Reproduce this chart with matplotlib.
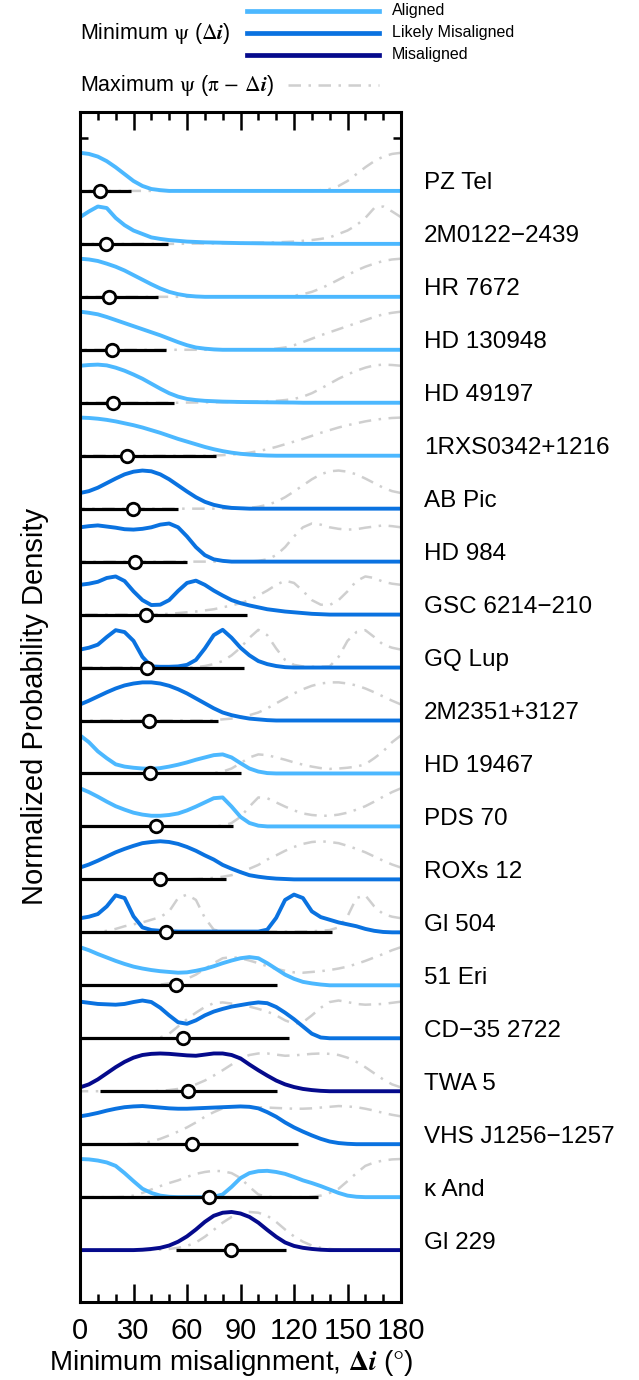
import numpy as np
import matplotlib
matplotlib.use("Agg")
import matplotlib.pyplot as plt
from matplotlib.lines import Line2D

plt.rcParams['font.family'] = ['Liberation Sans', 'DejaVu Sans']
plt.rcParams['mathtext.fontset'] = 'stix'

# objects, top to bottom
names = ['PZ Tel', '2M0122\u22122439', 'HR 7672', 'HD 130948', 'HD 49197',
         '1RXS0342+1216', 'AB Pic', 'HD 984', 'GSC 6214\u2212210', 'GQ Lup',
         '2M2351+3127', 'HD 19467', 'PDS 70', 'ROXs 12', 'Gl 504', '51 Eri',
         'CD\u221235 2722', 'TWA 5', 'VHS J1256\u22121257', '\u03ba And', 'Gl 229']
status = ['A', 'A', 'A', 'A', 'A', 'A', 'L', 'L', 'L', 'L', 'L', 'A', 'A', 'L',
          'L', 'A', 'L', 'M', 'L', 'A', 'M']

# median and range of minimum misalignment (deg)
medians = [11.2, 14.4, 16.4, 17.8, 18.7, 26.5, 29.9, 30.8, 37.0, 37.4, 38.7,
           39.3, 42.6, 44.9, 48.0, 53.8, 57.9, 60.7, 63.0, 72.5, 84.7]
err_lo = [0, 0, 0, 0, 0, 0, 0, 0, 0, 0, 0, 0, 0, 0, 0, 0, 0, 11.2, 0, 0, 53.8]
err_hi = [28.6, 49.5, 43.9, 48.2, 52.9, 76.1, 55.1, 59.8, 93.5, 92.0, 77.2,
          90.1, 86.0, 81.9, 141.1, 110.7, 117.4, 110.3, 122.4, 133.7, 115.5]

# normalized posterior of delta-i, sampled every 5 deg from 0 (zero past the end)
angles = np.arange(0, 181, 5)
pz_tel = [1.0, 0.97, 0.90, 0.78, 0.62, 0.44, 0.26, 0.13, 0.05, 0.02]
m0122 = [0.70, 0.85, 0.98, 0.94, 0.68, 0.49, 0.35, 0.26, 0.17, 0.13, 0.10, 0.08,
         0.06, 0.05, 0.04, 0.035, 0.03, 0.025, 0.02, 0.018, 0.015, 0.012, 0.01,
         0.008, 0.005]
hr7672 = [1.0, 0.98, 0.94, 0.87, 0.79, 0.69, 0.57, 0.45, 0.33, 0.22, 0.13, 0.07,
          0.03, 0.01]
hd130948 = [1.0, 0.97, 0.93, 0.86, 0.78, 0.70, 0.62, 0.54, 0.46, 0.38, 0.29,
            0.20, 0.12, 0.06, 0.03, 0.01]
hd49197 = [0.97, 0.99, 1.0, 0.98, 0.92, 0.84, 0.74, 0.63, 0.50, 0.37, 0.25,
           0.16, 0.10, 0.07, 0.05, 0.04, 0.03, 0.025, 0.02, 0.017, 0.015, 0.012,
           0.01, 0.007, 0.005]
rxs0342 = [1.0, 0.99, 0.97, 0.94, 0.90, 0.85, 0.80, 0.74, 0.67, 0.60, 0.52,
           0.44, 0.37, 0.30, 0.23, 0.17, 0.12, 0.08, 0.05, 0.03, 0.015, 0.005]
ab_pic = [0.41, 0.46, 0.55, 0.67, 0.79, 0.90, 0.97, 1.0, 0.98, 0.90, 0.77, 0.61,
          0.45, 0.30, 0.18, 0.10, 0.05, 0.02, 0.01]
hd984 = [0.90, 0.93, 0.95, 0.92, 0.89, 0.85, 0.84, 0.86, 0.90, 0.97, 1.0, 0.90,
         0.66, 0.38, 0.17, 0.06, 0.02]
gsc6214 = [0.78, 0.81, 0.86, 0.96, 1.0, 0.88, 0.61, 0.38, 0.25, 0.26, 0.38,
           0.62, 0.83, 0.89, 0.78, 0.63, 0.50, 0.38, 0.30, 0.24, 0.19, 0.14,
           0.11, 0.08, 0.06, 0.04, 0.02, 0.01]
gq_lup = [0.47, 0.52, 0.60, 0.80, 0.98, 0.93, 0.70, 0.28, 0.03, 0.02, 0.02,
          0.03, 0.07, 0.20, 0.50, 0.85, 0.99, 0.78, 0.52, 0.32, 0.17, 0.09,
          0.04, 0.01]
m2351 = [0.42, 0.52, 0.63, 0.74, 0.84, 0.92, 0.97, 1.0, 1.0, 0.97, 0.91, 0.82,
         0.71, 0.58, 0.45, 0.32, 0.21, 0.14, 0.09, 0.05, 0.03, 0.01]
hd19467 = [1.0, 0.82, 0.58, 0.40, 0.24, 0.18, 0.15, 0.13, 0.12, 0.14, 0.18,
           0.23, 0.29, 0.36, 0.42, 0.48, 0.50, 0.42, 0.27, 0.13, 0.05, 0.01]
pds70 = [1.0, 0.90, 0.78, 0.65, 0.53, 0.44, 0.36, 0.31, 0.28, 0.28, 0.30, 0.34,
         0.42, 0.52, 0.63, 0.74, 0.76, 0.52, 0.25, 0.09, 0.02]
roxs12 = [0.31, 0.39, 0.49, 0.60, 0.71, 0.80, 0.88, 0.95, 0.98, 1.0, 0.98, 0.93,
          0.85, 0.75, 0.63, 0.52, 0.38, 0.28, 0.19, 0.11, 0.07, 0.04, 0.02, 0.01]
gl504 = [0.37, 0.41, 0.48, 0.68, 0.97, 0.90, 0.42, 0.13, 0.06, 0.04, 0.03, 0.02,
         0.02, 0.02, 0.02, 0.02, 0.02, 0.02, 0.02, 0.02, 0.02, 0.07, 0.38, 0.85,
         0.99, 0.90, 0.55, 0.40, 0.33, 0.26, 0.21, 0.16, 0.09, 0.04, 0.01]
eri51 = [1.0, 0.92, 0.82, 0.73, 0.64, 0.56, 0.49, 0.44, 0.40, 0.37, 0.35, 0.33,
         0.34, 0.38, 0.43, 0.50, 0.58, 0.65, 0.71, 0.74, 0.71, 0.58, 0.43, 0.28,
         0.17, 0.09, 0.05, 0.02]
cd35 = [0.96, 0.93, 0.90, 0.89, 0.88, 0.90, 0.95, 0.99, 0.95, 0.80, 0.60, 0.42,
        0.38, 0.47, 0.60, 0.70, 0.77, 0.83, 0.87, 0.91, 0.94, 0.92, 0.82, 0.67,
        0.50, 0.31, 0.12, 0.02]
twa5 = [0.10, 0.18, 0.31, 0.47, 0.63, 0.77, 0.88, 0.95, 0.98, 0.99, 0.98, 0.96,
        0.94, 0.93, 0.96, 0.99, 0.99, 0.95, 0.86, 0.70, 0.55, 0.41, 0.28, 0.18,
        0.11, 0.06, 0.03, 0.01]
vhs1256 = [0.73, 0.77, 0.82, 0.88, 0.93, 0.97, 0.99, 1.0, 0.98, 0.96, 0.94, 0.93,
           0.93, 0.94, 0.95, 0.96, 0.97, 0.98, 0.99, 0.98, 0.94, 0.84, 0.72,
           0.57, 0.44, 0.33, 0.23, 0.14, 0.07, 0.03, 0.01]
kap_and = [1.0, 0.99, 0.96, 0.91, 0.82, 0.63, 0.42, 0.22, 0.11, 0.04, 0.01, 0,
           0, 0, 0, 0.01, 0.07, 0.27, 0.50, 0.63, 0.68, 0.69, 0.66, 0.61, 0.53,
           0.44, 0.37, 0.29, 0.20, 0.11, 0.04, 0.01]
gl229 = [0, 0, 0, 0, 0, 0, 0, 0.01, 0.03, 0.06, 0.12, 0.22, 0.36, 0.54, 0.74,
         0.90, 0.98, 1.0, 0.96, 0.87, 0.72, 0.53, 0.35, 0.20, 0.11, 0.06, 0.03,
         0.01]

densities = [pz_tel, m0122, hr7672, hd130948, hd49197, rxs0342, ab_pic, hd984,
             gsc6214, gq_lup, m2351, hd19467, pds70, roxs12, gl504, eri51, cd35,
             twa5, vhs1256, kap_and, gl229]

colors = {'A': '#4cb8ff', 'L': '#0a72e0', 'M': '#050a8c'}
labels = {'A': 'Aligned', 'L': 'Likely Misaligned', 'M': 'Misaligned'}
grey = '#cfcfcf'
dashdot = (0, (5, 3, 1, 3))
scale = 0.72

fig = plt.figure(figsize=(6.39, 13.8), dpi=100)
ax = fig.add_axes([80 / 639, 1 - 1302 / 1380, 321 / 639, 1190 / 1380])

n = len(names)
for k in range(n):
    base = n - 1 - k
    dens = np.zeros(len(angles))
    dens[:len(densities[k])] = densities[k]
    # maximum psi: mirror about 90 deg
    ax.plot(180 - angles, base + scale * dens, color=grey, lw=1.8,
            linestyle=dashdot, zorder=1)
    ax.plot(angles, base + scale * dens, color=colors[status[k]], lw=2.8,
            solid_joinstyle='round', zorder=2)
    ax.plot([err_lo[k], err_hi[k]], [base, base], color='black', lw=2.3,
            solid_capstyle='butt', zorder=3)
    ax.plot(medians[k], base, 'o', ms=9, mfc='white', mec='black', mew=2,
            zorder=4)
    ax.text(193, base + 0.14, names[k], fontsize=17.5, va='center', ha='left',
            clip_on=False)

ax.set_xlim(0, 180)
ax.set_ylim(-0.98, 21.49)
ax.set_xticks(np.arange(0, 181, 30))
ax.set_xticks(np.arange(0, 181, 10), minor=True)
ax.set_yticks([21])
ax.set_yticklabels([])
ax.tick_params(axis='x', which='both', direction='in', top=True, bottom=True,
               width=1.8, labelsize=21, pad=11)
ax.tick_params(axis='x', which='major', length=13)
ax.tick_params(axis='x', which='minor', length=6)
ax.tick_params(axis='y', direction='in', left=True, right=True, length=6,
               width=1.8)
for sp in ax.spines.values():
    sp.set_linewidth(2.2)

fig.text(231 / 639, 1 - 1363 / 1380,
         r'Minimum misalignment, $\mathbf{\Delta}\boldsymbol{i}$ ($\degree$)',
         fontsize=20, ha='center', va='center')
fig.text(35 / 639, 1 - 706 / 1380, 'Normalized Probability Density',
         fontsize=21, rotation=90, ha='center', va='center')

# legend block above the axes
fig.text(80 / 639, 1 - 33 / 1380, r'Minimum $\mathrm{\psi}$ ($\Delta\boldsymbol{i}$)',
         fontsize=15.5, ha='left', va='center')
for yy, key in zip([11, 33, 55], ['A', 'L', 'M']):
    fig.add_artist(Line2D([247 / 639, 379 / 639], [1 - yy / 1380, 1 - yy / 1380],
                          transform=fig.transFigure, color=colors[key], lw=3.4))
    fig.text(392 / 639, 1 - yy / 1380, labels[key], fontsize=11.5, ha='left',
             va='center')
fig.text(80 / 639, 1 - 85 / 1380,
         r'Maximum $\mathrm{\psi}$ ($\mathrm{\pi}$ $-$ $\Delta\boldsymbol{i}$)',
         fontsize=15.5, ha='left', va='center')
fig.add_artist(Line2D([288 / 639, 379 / 639], [1 - 85 / 1380, 1 - 85 / 1380],
                      transform=fig.transFigure, color=grey, lw=1.8,
                      linestyle=dashdot))

fig.savefig('out.png', dpi=100)
